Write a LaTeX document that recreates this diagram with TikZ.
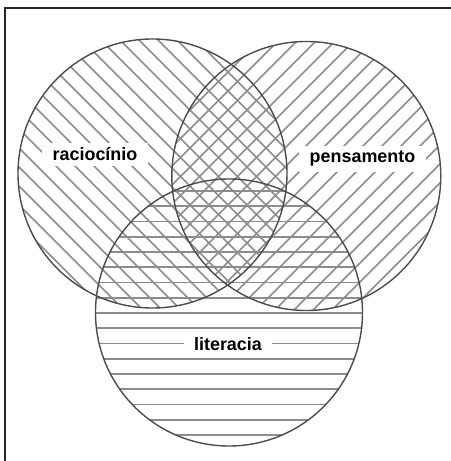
\documentclass[tikz,border=0pt]{standalone}
\usepackage{fontspec}
\setmainfont{Liberation Sans}
\usetikzlibrary{positioning}
\tikzset{
  hatch/.style={black!45,line width=0.95pt},
  ring/.style={draw=black!70,line width=0.8pt},
  lab/.style={fill=white,anchor=base,inner xsep=6pt,inner ysep=3pt,
    font=\fontsize{10.2}{12}\selectfont\bfseries}
}
\begin{document}
\begin{tikzpicture}[x=0.2mm,y=0.2mm]
  \useasboundingbox (0,0) rectangle (451,461);
  % frame
  \draw[line width=1pt,black!85] (5,0) -- (5,453) -- (451,453);
  % centres
  \coordinate (rac) at (152.5,287.5);
  \coordinate (pen) at (306.3,285);
  \coordinate (lit) at (229,148.5);
  % hatching
  \begin{scope}
    \clip (rac) circle (134.5);
    \foreach \c in {256,275,...,640}
      \draw[hatch] (\c,0) -- ++(-461,461);
  \end{scope}
  \begin{scope}
    \clip (pen) circle (134.5);
    \foreach \c in {-200,-181,...,190}
      \draw[hatch] (-100,\c-100) -- ++(700,700);
  \end{scope}
  \begin{scope}
    \clip (lit) circle (133.5);
    \foreach \y in {270,254.75,...,25}
      \draw[hatch] (0,\y) -- (451,\y);
  \end{scope}
  % labels
  \node[lab] (raclab) at (95,300) {raciocínio};
  \node[lab] (penlab) at (362.5,298) {pensamento};
  \node[lab] (litlab) at (228,110) {literacia};
  % outlines
  \draw[ring] (rac) circle (134.5);
  \draw[ring] (pen) circle (134.5);
  \draw[ring] (lit) circle (133.5);
\end{tikzpicture}
\end{document}
